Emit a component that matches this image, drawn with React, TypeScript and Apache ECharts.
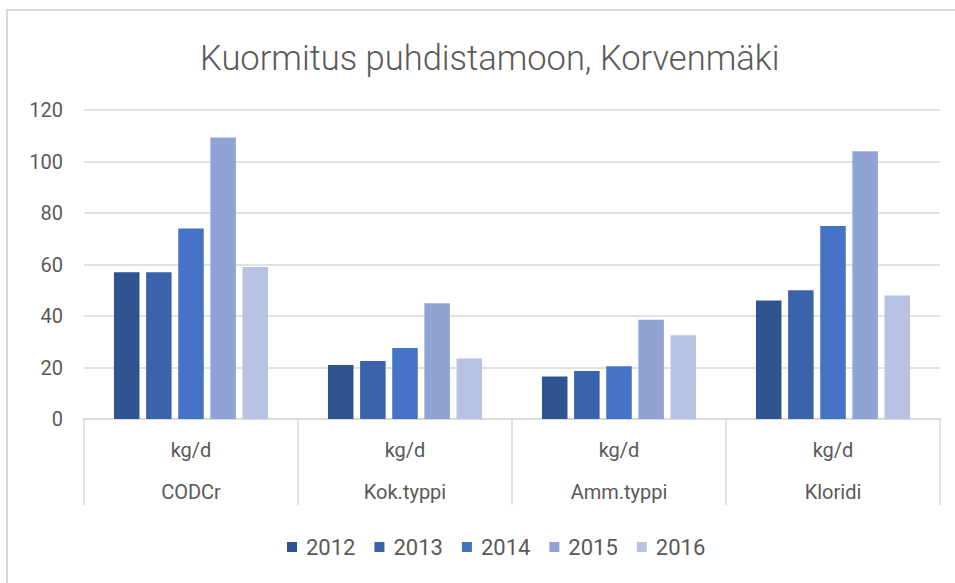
import React, { useEffect, useRef } from "react";
import * as echarts from "echarts";

const categories = ["CODCr", "Kok.typpi", "Amm.typpi", "Kloridi"];
const units = ["kg/d", "kg/d", "kg/d", "kg/d"];
const years = ["2012", "2013", "2014", "2015", "2016"];
const v2012 = [57, 21, 16.5, 46];
const v2013 = [57, 22.5, 18.6, 50];
const v2014 = [74, 27.6, 20.5, 75];
const v2015 = [109.3, 45, 38.5, 104];
const v2016 = [59, 23.5, 32.5, 48];
const colors = ["#30548f", "#3a63ab", "#4472c4", "#8fa3d4", "#b8c2e2"];

const FONT = "Roboto, 'Liberation Sans', sans-serif";

export default function App() {
  const ref = useRef<HTMLDivElement>(null);
  useEffect(() => {
    if (!ref.current) return;
    const chart = echarts.init(ref.current, null, { renderer: "svg" });
    const values = [v2012, v2013, v2014, v2015, v2016];
    chart.setOption({
      animation: false,
      backgroundColor: "#ffffff",
      textStyle: { fontFamily: FONT },
      title: {
        text: "Kuormitus puhdistamoon, Korvenmäki",
        left: 195,
        top: 35,
        textStyle: { fontFamily: FONT, fontSize: 34.5, fontWeight: 300, color: "#595959" },
      },
      graphic: [
        {
          type: "rect",
          shape: { x: 7, y: 10, width: 1000, height: 1000 },
          style: { fill: "none", stroke: "#d9d9d9", lineWidth: 2 },
          silent: true,
        },
      ],
      grid: { left: 84, right: 15, top: 110, bottom: 164, containLabel: false },
      legend: {
        bottom: 20,
        left: 282,
        itemWidth: 10,
        itemHeight: 10,
        itemGap: 19,
        icon: "rect",
        textStyle: { fontFamily: FONT, fontSize: 22, color: "#595959", padding: [0, 0, 0, 4] },
        data: years,
      },
      xAxis: {
        type: "category",
        data: categories,
        axisLine: { lineStyle: { color: "#d9d9d9", width: 1.5 } },
        axisTick: { show: true, length: 86, interval: 0, lineStyle: { color: "#d9d9d9", width: 1.5 } },
        axisLabel: {
          interval: 0,
          margin: 10,
          formatter: (v: string, i: number) => `{u|${units[i]}}\n{c|${v}}`,
          rich: {
            u: { fontFamily: FONT, fontSize: 20, color: "#595959", lineHeight: 42 },
            c: { fontFamily: FONT, fontSize: 20, color: "#595959", lineHeight: 42 },
          },
        },
      },
      yAxis: {
        type: "value",
        min: 0,
        max: 120,
        interval: 20,
        axisLine: { show: false },
        axisTick: { show: false },
        axisLabel: { fontFamily: FONT, fontSize: 20, color: "#595959", margin: 21 },
        splitLine: { lineStyle: { color: "#d9d9d9", width: 1.5 } },
      },
      series: years.map((y, i) => ({
        name: y,
        type: "bar",
        data: values[i],
        barGap: "26%",
        barCategoryGap: "28%",
        itemStyle: { color: colors[i] },
      })),
    });
    return () => chart.dispose();
  }, []);
  return (
    <div
      ref={ref}
      style={{ position: "absolute", left: 0, top: 0, width: 955, height: 583 }}
    />
  );
}
